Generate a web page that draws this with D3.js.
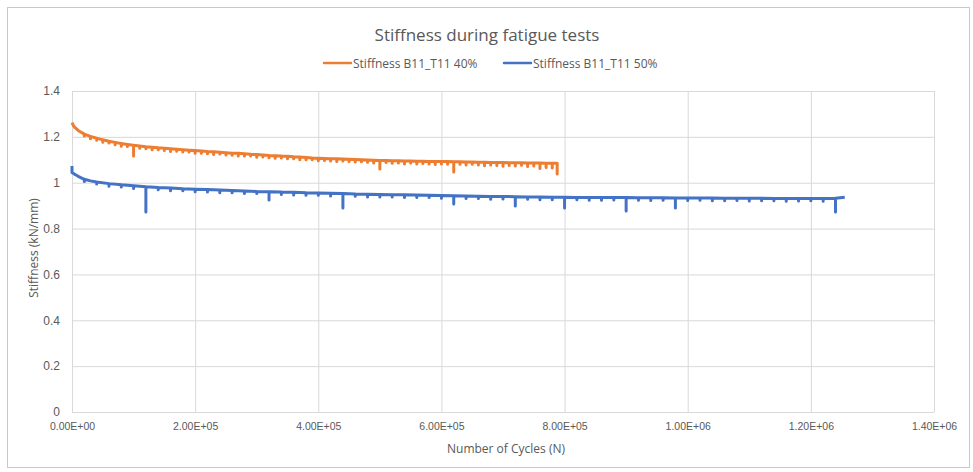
<!DOCTYPE html>
<html>
<head>
<meta charset="utf-8">
<script src="https://cdn.jsdelivr.net/npm/d3@7"></script>
<style>
  html, body { margin: 0; padding: 0; background: #ffffff; }
  svg { display: block; font-family: "Open Sans", "Noto Sans", sans-serif; }
</style>
</head>
<body>
<svg id="chart" width="973" height="472"></svg>
<script>
// ---- Axis ticks ----
const xTicks = [0, 200000, 400000, 600000, 800000, 1000000, 1200000, 1400000];
const yTicks = [0, 0.2, 0.4, 0.6, 0.8, 1.0, 1.2, 1.4];

// ---- Series: Stiffness B11_T11 40% (cycles in thousands, stiffness in kN/mm) ----
const kcycles40 = [0, 2, 5, 10, 20, 30, 40, 50, 60, 70, 80, 90, 100, 110, 120, 130, 140, 150, 160, 170,
  180, 190, 200, 210, 220, 230, 240, 250, 260, 270, 280, 290, 300, 310, 320, 330, 340, 350, 360, 370,
  380, 390, 400, 410, 420, 430, 440, 450, 460, 470, 480, 490, 500, 510, 520, 530, 540, 550, 560, 570,
  580, 590, 600, 610, 620, 630, 640, 650, 660, 670, 680, 690, 700, 710, 720, 730, 740, 750, 760, 770,
  780, 788];
const stiffness40 = [1.262, 1.250, 1.240, 1.228, 1.212, 1.202, 1.194, 1.187, 1.181, 1.176, 1.171, 1.167, 1.163, 1.160, 1.157, 1.155, 1.152, 1.150, 1.148, 1.146,
  1.144, 1.142, 1.140, 1.138, 1.136, 1.135, 1.133, 1.131, 1.129, 1.128, 1.126, 1.124, 1.123, 1.121, 1.119, 1.118, 1.116, 1.115, 1.113, 1.112,
  1.110, 1.108, 1.107, 1.106, 1.105, 1.104, 1.103, 1.102, 1.101, 1.100, 1.099, 1.098, 1.097, 1.097, 1.096, 1.096, 1.095, 1.095, 1.094, 1.094,
  1.093, 1.093, 1.092, 1.092, 1.091, 1.091, 1.090, 1.090, 1.089, 1.089, 1.088, 1.088, 1.088, 1.087, 1.087, 1.087, 1.086, 1.086, 1.086, 1.085,
  1.085, 1.085];
// momentary stiffness drops (cycles in thousands, drop in kN/mm)
const dropK40 = [20, 30, 40, 50, 60, 70, 80, 90, 100, 110, 120, 130, 140, 150, 160, 170, 180, 190, 200, 210,
  220, 230, 240, 250, 260, 270, 280, 290, 300, 310, 320, 330, 340, 350, 360, 370, 380, 390, 400, 410,
  420, 430, 440, 450, 460, 470, 480, 490, 500, 510, 520, 530, 540, 550, 560, 570, 580, 590, 600, 610,
  620, 630, 640, 650, 660, 670, 680, 690, 700, 710, 720, 730, 740, 750, 760, 770, 780, 788];
const drop40 = [0.008, 0.010, 0.009, 0.011, 0.008, 0.010, 0.012, 0.009, 0.047, 0.010, 0.009, 0.011, 0.008, 0.010, 0.012, 0.009, 0.010, 0.008, 0.011, 0.009,
  0.010, 0.012, 0.008, 0.010, 0.009, 0.011, 0.010, 0.008, 0.012, 0.009, 0.010, 0.011, 0.008, 0.010, 0.009, 0.012, 0.010, 0.008, 0.011, 0.009,
  0.010, 0.012, 0.008, 0.010, 0.011, 0.009, 0.010, 0.012, 0.037, 0.009, 0.011, 0.010, 0.013, 0.009, 0.012, 0.010, 0.011, 0.014, 0.010, 0.012,
  0.044, 0.011, 0.013, 0.010, 0.012, 0.015, 0.011, 0.013, 0.016, 0.012, 0.014, 0.011, 0.015, 0.013, 0.024, 0.019, 0.021, 0.047];

// ---- Series: Stiffness B11_T11 50% ----
const kcycles50 = [0, 0, 5, 10, 20, 30, 40, 60, 80, 100, 120, 140, 160, 180, 200, 220, 240, 260, 280, 300,
  320, 340, 360, 380, 400, 420, 440, 460, 480, 500, 520, 540, 560, 580, 600, 620, 640, 660, 680, 700,
  720, 740, 760, 780, 800, 820, 840, 860, 880, 900, 920, 940, 960, 980, 1000, 1020, 1040, 1060, 1080, 1100,
  1120, 1140, 1160, 1180, 1200, 1220, 1240, 1255];
const stiffness50 = [1.073, 1.045, 1.036, 1.028, 1.015, 1.008, 1.003, 0.996, 0.991, 0.987, 0.982, 0.979, 0.977, 0.974, 0.972, 0.970, 0.968, 0.966, 0.964, 0.962,
  0.961, 0.959, 0.958, 0.956, 0.955, 0.954, 0.953, 0.951, 0.950, 0.949, 0.948, 0.947, 0.946, 0.945, 0.944, 0.943, 0.942, 0.941, 0.940, 0.940,
  0.939, 0.938, 0.938, 0.937, 0.937, 0.936, 0.936, 0.935, 0.935, 0.935, 0.934, 0.934, 0.934, 0.933, 0.933, 0.933, 0.933, 0.932, 0.932, 0.932,
  0.932, 0.931, 0.931, 0.931, 0.931, 0.931, 0.932, 0.937];
const dropK50 = [20, 40, 60, 80, 100, 120, 140, 160, 180, 200, 220, 240, 260, 280, 300, 320, 340, 360, 380, 400,
  420, 440, 460, 480, 500, 520, 540, 560, 580, 600, 620, 640, 660, 680, 700, 720, 740, 760, 780, 800,
  820, 840, 860, 880, 900, 920, 940, 960, 980, 1000, 1020, 1040, 1060, 1080, 1100, 1120, 1140, 1160, 1180, 1200,
  1220, 1240];
const drop50 = [0.010, 0.009, 0.011, 0.010, 0.012, 0.110, 0.010, 0.012, 0.009, 0.011, 0.010, 0.012, 0.010, 0.011, 0.009, 0.036, 0.010, 0.012, 0.011, 0.010,
  0.012, 0.063, 0.010, 0.012, 0.011, 0.010, 0.012, 0.011, 0.010, 0.012, 0.036, 0.011, 0.010, 0.012, 0.011, 0.041, 0.010, 0.012, 0.011, 0.047,
  0.010, 0.012, 0.011, 0.010, 0.058, 0.011, 0.012, 0.010, 0.043, 0.011, 0.010, 0.012, 0.011, 0.010, 0.012, 0.011, 0.010, 0.012, 0.011, 0.010,
  0.012, 0.060];

const seriesNames = ["Stiffness B11_T11 40%", "Stiffness B11_T11 50%"];
const seriesColors = ["#ED7D31", "#4472C4"];

// ---- Layout ----
const svg = d3.select("#chart");
const plotL = 72, plotR = 934, plotT = 91, plotB = 412;
const x = d3.scaleLinear().domain([0, 1400000]).range([plotL, plotR]);
const y = d3.scaleLinear().domain([0, 1.4]).range([plotB, plotT]);
const grey = "#595959";

// outer chart border
svg.append("rect")
  .attr("x", 7.5).attr("y", 7.5).attr("width", 962).attr("height", 460)
  .attr("fill", "#fff").attr("stroke", "#c9c9c9").attr("stroke-width", 1);

// exponent-style tick format, e.g. 2.00E+05
const sciFmt = d => {
  const [m, e] = d.toExponential(2).split("e");
  const n = Math.abs(+e);
  return m + "E" + (+e < 0 ? "-" : "+") + (n < 10 ? "0" + n : "" + n);
};

// horizontal gridlines + y labels
const yAxis = svg.append("g")
  .attr("transform", `translate(${plotL},0)`)
  .call(d3.axisLeft(y).tickValues(yTicks).tickSize(-(plotR - plotL)).tickPadding(12)
    .tickFormat(d => d3.format("~g")(d)));
yAxis.select(".domain").remove();
yAxis.selectAll(".tick line").attr("stroke", "#d9d9d9").attr("stroke-width", 1);
yAxis.selectAll(".tick text").attr("fill", grey).attr("font-size", 12);

// vertical gridlines + x labels
const xAxis = svg.append("g")
  .attr("transform", `translate(0,${plotB})`)
  .call(d3.axisBottom(x).tickValues(xTicks).tickSize(-(plotB - plotT)).tickPadding(11)
    .tickFormat(sciFmt));
xAxis.select(".domain").remove();
xAxis.selectAll(".tick line").attr("stroke", "#d9d9d9").attr("stroke-width", 1);
xAxis.selectAll(".tick text").attr("fill", grey).attr("font-size", 10.5);

// horizontal axis line
svg.append("line")
  .attr("x1", plotL).attr("x2", plotR).attr("y1", plotB + 0.5).attr("y2", plotB + 0.5)
  .attr("stroke", "#d9d9d9");

// ---- Series lines ----
function buildPoints(kc, vals, dk, dv) {
  const drops = new Map(dk.map((k, i) => [k, dv[i]]));
  const pts = [];
  kc.forEach((k, i) => {
    const c = k * 1000, v = vals[i];
    pts.push([c, v]);
    if (drops.has(k) && !(i + 1 < kc.length && kc[i + 1] === k)) {
      pts.push([c, v - drops.get(k)]);
      pts.push([c, v]);
    }
  });
  return pts;
}
const line = d3.line().x(d => x(d[0])).y(d => y(d[1]));
const series = [
  buildPoints(kcycles40, stiffness40, dropK40, drop40),
  buildPoints(kcycles50, stiffness50, dropK50, drop50)
];
series.forEach((pts, i) => {
  svg.append("path")
    .datum(pts)
    .attr("d", line)
    .attr("fill", "none")
    .attr("stroke", seriesColors[i])
    .attr("stroke-width", 3)
    .attr("stroke-linejoin", "round")
    .attr("stroke-linecap", "butt");
});

// ---- Title ----
svg.append("text")
  .attr("x", 487).attr("y", 41)
  .attr("text-anchor", "middle")
  .attr("fill", grey).attr("font-size", 17)
  .text("Stiffness during fatigue tests");

// ---- Legend ----
const legendX = [324, 504];
seriesNames.forEach((name, i) => {
  const g = svg.append("g").attr("transform", `translate(${legendX[i]},63)`);
  g.append("line").attr("x1", 0).attr("x2", 27).attr("y1", 0).attr("y2", 0)
    .attr("stroke", seriesColors[i]).attr("stroke-width", 2.5).attr("stroke-linecap", "round");
  g.append("text").attr("x", 29).attr("y", 4.5)
    .attr("fill", grey).attr("font-size", 12).text(name);
});

// ---- Axis titles ----
svg.append("text")
  .attr("x", 506).attr("y", 453)
  .attr("text-anchor", "middle")
  .attr("fill", grey).attr("font-size", 12)
  .text("Number of Cycles (N)");
svg.append("text")
  .attr("transform", "translate(38,248) rotate(-90)")
  .attr("text-anchor", "middle")
  .attr("fill", grey).attr("font-size", 12)
  .text("Stiffness (kN/mm)");
</script>
</body>
</html>
